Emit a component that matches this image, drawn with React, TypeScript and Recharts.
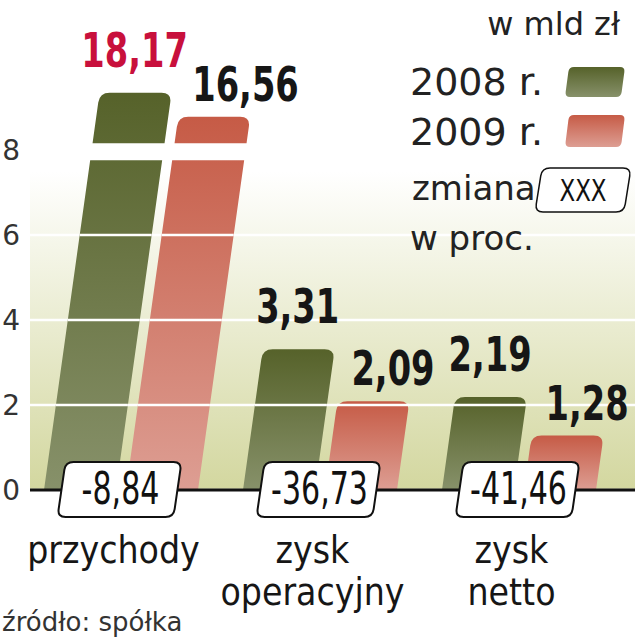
import React from 'react';
import { Bar, BarChart, CartesianGrid, LabelList, Legend, XAxis, YAxis } from 'recharts';

const categories = ['przychody', 'zysk operacyjny', 'zysk netto'];
const values2008 = [18.17, 3.31, 2.19];
const values2009 = [16.56, 2.09, 1.28];
// bars that run off the scale are drawn broken, up to these heights
const shown2008 = [9.35, 3.31, 2.19];
const shown2009 = [8.78, 2.09, 1.28];
const changes = ['-8,84', '-36,73', '-41,46'];
const yTicks = [0, 2, 4, 6, 8];

const data = categories.map((name, i) => ({
  name,
  v2008: values2008[i],
  v2009: values2009[i],
  s2008: shown2008[i],
  s2009: shown2009[i],
}));

const SLANT = 0.14;
const BREAK_FROM = 7.76;
const BREAK_TO = 8.16;

const TEXT_FONT = '"DejaVu Sans", sans-serif';
const COND_FONT = '"DejaVu Sans Condensed", "DejaVu Sans", sans-serif';

type Pt = { x: number; y: number };

const toward = (a: Pt, b: Pt, r: number): Pt => {
  const dx = b.x - a.x;
  const dy = b.y - a.y;
  const len = Math.hypot(dx, dy) || 1;
  return { x: a.x + (dx / len) * r, y: a.y + (dy / len) * r };
};

// polygon with rounded corners, one radius per point
const roundedPoly = (pts: Pt[], radii: number[]) => {
  const n = pts.length;
  let d = '';
  pts.forEach((p, i) => {
    const r = radii[i];
    const prev = pts[(i - 1 + n) % n];
    const next = pts[(i + 1) % n];
    const a = toward(p, prev, r);
    const b = toward(p, next, r);
    d += `${i === 0 ? 'M' : 'L'}${a.x},${a.y} Q${p.x},${p.y} ${b.x},${b.y} `;
  });
  return d + 'Z';
};

// narrow text: condensed font squeezed horizontally
const NarrowText = ({ x, y, anchor, size, weight, fill, squeeze, children }: any) => (
  <text
    transform={`translate(${x},${y}) scale(${squeeze},1)`}
    textAnchor={anchor}
    fontFamily={COND_FONT}
    fontWeight={weight}
    fontSize={size}
    fill={fill}
  >
    {children}
  </text>
);

const SlantBar = (props: any, series: '2008' | '2009') => {
  const { x, y, width, height, payload } = props;
  if (!height || height <= 0) return <g />;
  const shown = payload['s' + series];
  const real = payload['v' + series];
  const y0 = y + height;
  const ppu = height / shown;
  const lx = (Y: number) => x + SLANT * (y0 - Y);
  const seg = (top: number, bottom: number, r: number) =>
    roundedPoly(
      [
        { x: lx(bottom), y: bottom },
        { x: lx(top), y: top },
        { x: lx(top) + width, y: top },
        { x: lx(bottom) + width, y: bottom },
      ],
      [0, r, r, 0],
    );
  const broken = real > shown;
  const d = broken
    ? seg(y0 - BREAK_FROM * ppu, y0, 0) + ' ' + seg(y, y0 - BREAK_TO * ppu, 10)
    : seg(y, y0, 10);
  const lines = yTicks.filter((t) => t > 0 && t < shown && !(broken && t > BREAK_FROM && t < BREAK_TO));
  return (
    <g>
      <path d={d} fill={`url(#g${series})`} />
      {lines.map((t) => {
        const Y = y0 - t * ppu;
        return <line key={t} x1={lx(Y)} x2={lx(Y) + width} y1={Y} y2={Y} stroke="#fff" strokeWidth={2.5} />;
      })}
    </g>
  );
};

const valueLabel = (series: '2008' | '2009') => (p: any) => {
  const vb = p.viewBox ?? p;
  const x = vb.x ?? p.x;
  const y = vb.y ?? p.y;
  const width = vb.width ?? p.width;
  const height = vb.height ?? p.height;
  const idx = p.index ?? (series === '2008' ? values2008 : values2009).indexOf(p.value);
  const text = Number(p.value).toFixed(2).replace('.', ',');
  const topLeft = x + SLANT * height;
  const highlight = series === '2008' && idx === 0;
  const fill = highlight ? '#c8103c' : '#161616';
  if (series === '2008') {
    return (
      <NarrowText x={topLeft + width / 2 - 1} y={y - 26} anchor="middle" size={48} weight={700} fill={fill} squeeze={0.78}>
        {text}
      </NarrowText>
    );
  }
  return (
    <NarrowText x={topLeft + 14} y={y - 16} anchor="start" size={48} weight={700} fill={fill} squeeze={0.78}>
      {text}
    </NarrowText>
  );
};

const CategoryTick = (props: any) => {
  const { x, y, payload } = props;
  const i = payload.index ?? categories.indexOf(payload.value);
  const cx = x - 1;
  const top = y - 28;
  const bottom = y + 27;
  const half = 58;
  const box = roundedPoly(
    [
      { x: cx - half - 4, y: bottom },
      { x: cx - half + 4, y: top },
      { x: cx + half + 4, y: top },
      { x: cx + half - 4, y: bottom },
    ],
    [8, 8, 8, 8],
  );
  const lines = String(payload.value).split(' ');
  return (
    <g>
      <path d={box} fill="#fff" stroke="#111" strokeWidth={2} />
      <NarrowText x={cx + 1} y={y + 14} anchor="middle" size={44} weight={400} fill="#111" squeeze={0.76}>
        {changes[i]}
      </NarrowText>
      {lines.map((l, k) => (
        <text
          key={k}
          x={x - 7}
          y={y + 73 + k * 42}
          textAnchor="middle"
          fontFamily={COND_FONT}
          fontSize={37}
          fill="#161616"
        >
          {l}
        </text>
      ))}
    </g>
  );
};

const LegendBox = () => (
  <svg width={235} height={260} style={{ display: 'block' }}>
    <text x={220} y={35} textAnchor="end" fontFamily={TEXT_FONT} fontSize={32} fill="#222">
      w mld zł
    </text>
    <text x={10} y={95} fontFamily={TEXT_FONT} fontSize={38} fill="#222">
      2008 r.
    </text>
    <path
      d={roundedPoly(
        [
          { x: 165, y: 97 },
          { x: 169, y: 67 },
          { x: 225, y: 67 },
          { x: 221, y: 97 },
        ],
        [5, 5, 5, 5],
      )}
      fill="url(#g2008)"
    />
    <text x={10} y={145} fontFamily={TEXT_FONT} fontSize={38} fill="#222">
      2009 r.
    </text>
    <path
      d={roundedPoly(
        [
          { x: 165, y: 147 },
          { x: 169, y: 115 },
          { x: 225, y: 115 },
          { x: 221, y: 147 },
        ],
        [5, 5, 5, 5],
      )}
      fill="url(#g2009)"
    />
    <text x={12} y={200} fontFamily={TEXT_FONT} fontSize={34} fill="#222">
      zmiana
    </text>
    <path
      d={roundedPoly(
        [
          { x: 135, y: 212 },
          { x: 142, y: 168 },
          { x: 231, y: 168 },
          { x: 224, y: 212 },
        ],
        [8, 8, 8, 8],
      )}
      fill="#fff"
      stroke="#111"
      strokeWidth={1.5}
    />
    <NarrowText x={183} y={201} anchor="middle" size={30} weight={400} fill="#111" squeeze={0.85}>
      XXX
    </NarrowText>
    <text x={10} y={250} fontFamily={TEXT_FONT} fontSize={34} fill="#222">
      w proc.
    </text>
  </svg>
);

export default function App() {
  return (
    <div style={{ position: 'absolute', left: 0, top: 0, width: 635, height: 640, background: '#fff' }}>
      <BarChart
        width={635}
        height={640}
        data={data}
        margin={{ top: 65, right: 0, bottom: 0, left: 0 }}
        barSize={72}
        barGap={10}
      >
        <defs>
          <linearGradient id="bg" x1="0" y1="0" x2="0" y2="1">
            <stop offset="0.25" stopColor="#ffffff" />
            <stop offset="1" stopColor="#d3d79f" />
          </linearGradient>
          <linearGradient id="g2008" x1="0" y1="0" x2="0" y2="1">
            <stop offset="0" stopColor="#56622a" />
            <stop offset="1" stopColor="#87916a" />
          </linearGradient>
          <linearGradient id="g2009" x1="0" y1="0" x2="0" y2="1">
            <stop offset="0" stopColor="#c65b46" />
            <stop offset="1" stopColor="#dd9e93" />
          </linearGradient>
        </defs>
        <CartesianGrid vertical={false} stroke="#fff" strokeWidth={2.5} fill="url(#bg)" fillOpacity={1} />
        <YAxis
          domain={[0, 10]}
          ticks={yTicks}
          width={30}
          axisLine={false}
          tickLine={false}
          tickSize={0}
          tickMargin={10}
          tick={{ fontFamily: TEXT_FONT, fontSize: 28, fill: '#333' }}
        />
        <Bar dataKey="s2008" isAnimationActive={false} shape={(p: any) => SlantBar(p, '2008')}>
          <LabelList dataKey="v2008" content={valueLabel('2008')} />
        </Bar>
        <Bar dataKey="s2009" isAnimationActive={false} shape={(p: any) => SlantBar(p, '2009')}>
          <LabelList dataKey="v2009" content={valueLabel('2009')} />
        </Bar>
        <XAxis
          dataKey="name"
          height={150}
          interval={0}
          padding={{ left: -9, right: 17 }}
          axisLine={{ stroke: '#111', strokeWidth: 3 }}
          tickLine={false}
          tickSize={0}
          tickMargin={0}
          tick={<CategoryTick />}
        />
        <Legend
          layout="vertical"
          align="center"
          verticalAlign="middle"
          content={() => <LegendBox />}
          wrapperStyle={{ position: 'absolute', top: 0, left: 400, width: 235, height: 260 }}
        />
      </BarChart>
      <div
        style={{
          position: 'absolute',
          left: 2,
          top: 609,
          fontFamily: TEXT_FONT,
          fontSize: 26,
          lineHeight: '26px',
          color: '#333',
          whiteSpace: 'nowrap',
        }}
      >
        źródło: spółka
      </div>
    </div>
  );
}
